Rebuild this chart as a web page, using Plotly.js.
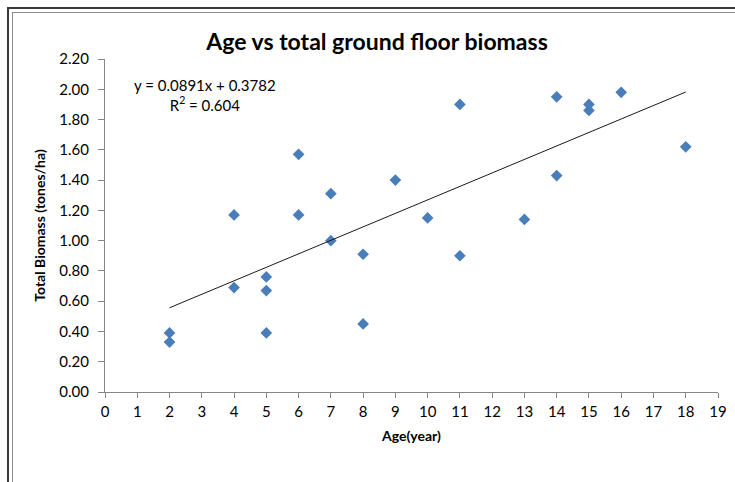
<!DOCTYPE html>
<html>
<head>
<meta charset="utf-8">
<script src="https://cdn.plot.ly/plotly-3.0.1.min.js"></script>
<style>
  html, body { margin: 0; padding: 0; background: #fff; }
  #wrap { position: relative; width: 735px; height: 482px; overflow: hidden; }
  #chart { position: absolute; left: 0; top: 0; width: 735px; height: 482px; }
  .frameOuter { position: absolute; left: 7px; top: 7px; width: 800px; height: 600px;
    border-left: 2px solid #3a3a3a; border-top: 2px solid #3a3a3a; pointer-events: none; }
  .frameInner { position: absolute; left: 12px; top: 12px; width: 800px; height: 600px;
    border-left: 1px solid #8a8a8a; border-top: 1px solid #8a8a8a; pointer-events: none; }
</style>
</head>
<body>
<div id="wrap">
  <div id="chart"></div>
  <div class="frameOuter"></div>
  <div class="frameInner"></div>
</div>
<script>
// Data
const ageYears = [2, 2, 4, 4, 5, 5, 5, 6, 6, 7, 7, 8, 8, 9, 10, 11, 11, 13, 14, 14, 15, 15, 16, 18];
const biomass  = [0.39, 0.33, 1.17, 0.69, 0.76, 0.67, 0.39, 1.57, 1.17, 1.31, 1.00, 0.91, 0.45, 1.40, 1.15, 1.90, 0.90, 1.14, 1.95, 1.43, 1.90, 1.86, 1.98, 1.62];
const trendSlope = 0.0891;
const trendIntercept = 0.3782;
const rSquared = 0.604;
const yTickVals = [0, 0.2, 0.4, 0.6, 0.8, 1.0, 1.2, 1.4, 1.6, 1.8, 2.0, 2.2];
const xTickVals = [0,1,2,3,4,5,6,7,8,9,10,11,12,13,14,15,16,17,18,19];

const xMin = Math.min(...ageYears), xMax = Math.max(...ageYears);
const trendX = [xMin, xMax];
const trendY = trendX.map(x => trendSlope * x + trendIntercept);

const FONT = 'Lato, "Liberation Sans", sans-serif';

const traces = [
  {
    x: ageYears, y: biomass, type: 'scatter', mode: 'markers',
    marker: { symbol: 'diamond', size: 9, color: '#4A7EBB' },
    hoverinfo: 'x+y', showlegend: false
  },
  {
    x: trendX, y: trendY, type: 'scatter', mode: 'lines',
    line: { color: '#1a1a1a', width: 1 },
    hoverinfo: 'skip', showlegend: false
  }
];

const layout = {
  width: 735, height: 482,
  margin: { l: 105, r: 17, t: 59, b: 90, pad: 0 },
  paper_bgcolor: '#ffffff', plot_bgcolor: '#ffffff',
  font: { family: FONT, color: '#000000', size: 15 },
  title: {
    text: '<b>Age vs total ground floor biomass</b>',
    font: { family: FONT, size: 23, color: '#000000' },
    xref: 'container', x: 0.513, xanchor: 'center',
    yref: 'container', y: 1 - 42 / 482, yanchor: 'middle'
  },
  xaxis: {
    range: [0, 19], tickmode: 'array', tickvals: xTickVals,
    ticks: 'outside', ticklen: 5, tickcolor: '#868686', tickwidth: 1,
    showline: true, linecolor: '#868686', linewidth: 1,
    showgrid: false, zeroline: false,
    tickfont: { family: FONT, size: 15, color: '#000' },
    ticklabelstandoff: 1,
    title: { text: '<b>Age(year)</b>', font: { family: FONT, size: 14, color: '#000' }, standoff: 12 },
    fixedrange: true
  },
  yaxis: {
    range: [0, 2.2], tickmode: 'array', tickvals: yTickVals,
    tickformat: '.2f',
    ticks: 'outside', ticklen: 6, tickcolor: '#868686', tickwidth: 1,
    showline: true, linecolor: '#868686', linewidth: 1,
    showgrid: false, zeroline: false,
    tickfont: { family: FONT, size: 15, color: '#000' },
    ticklabelstandoff: 6,
    title: { text: '<b>Total Biomass (tones/ha)</b>', font: { family: FONT, size: 14, color: '#000' }, standoff: 10 },
    fixedrange: true
  },
  annotations: [
    {
      xref: 'x', yref: 'y', x: 3.1, y: 1.96,
      text: 'y = ' + trendSlope.toFixed(4) + 'x + ' + trendIntercept.toFixed(4) +
            '<br>R<sup>2</sup> = ' + rSquared.toFixed(3),
      showarrow: false, align: 'center',
      xanchor: 'center', yanchor: 'middle',
      font: { family: FONT, size: 15, color: '#000' }
    }
  ]
};

Plotly.newPlot('chart', traces, layout, { displayModeBar: false, staticPlot: true });
</script>
</body>
</html>
